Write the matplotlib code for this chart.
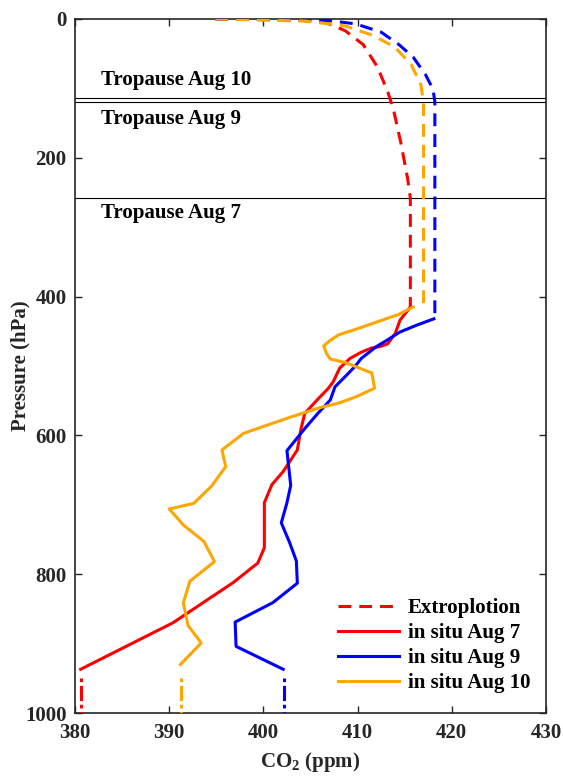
import matplotlib
matplotlib.use('Agg')
import matplotlib.pyplot as plt

# Schrift: Times-aehnlich, fett
plt.rcParams['font.family'] = 'Liberation Serif'
plt.rcParams['font.weight'] = 'bold'
plt.rcParams['axes.labelweight'] = 'bold'
plt.rcParams['mathtext.fontset'] = 'custom'
plt.rcParams['mathtext.rm'] = 'Liberation Serif:bold'
plt.rcParams['mathtext.it'] = 'Liberation Serif:bold'
plt.rcParams['mathtext.bf'] = 'Liberation Serif:bold'
plt.rcParams['mathtext.default'] = 'rm'

# In-situ Profile (CO2 in ppm, Druck in hPa)
co2_aug7 = [415.6, 414.5, 414.0, 413.2, 412.4, 411.5, 410.4, 409.2, 408.1, 407.4, 406.9,
            405.7, 404.4, 404.0, 403.6, 402.1, 400.9, 400.1, 400.1, 399.4, 396.8, 390.4, 380.6]
p_aug7 = [415, 434, 453, 468, 472, 474, 480, 489, 503, 523, 532,
          549, 568, 590, 621, 652, 671, 697, 762, 784, 812, 870, 937]

co2_aug9 = [418.1, 416.3, 414.5, 413.1, 412.0, 410.4, 409.7, 408.7, 407.6, 407.1, 405.8, 404.4,
            402.5, 402.9, 402.5, 401.9, 402.8, 403.5, 403.6, 401.0, 397.0, 397.1, 402.1]
p_aug9 = [432, 441, 451, 463, 472, 489, 501, 515, 530, 549, 568, 590,
          622, 672, 697, 726, 755, 781, 813, 841, 869, 904, 937]

co2_aug10 = [415.9, 414.3, 412.6, 409.6, 408.0, 407.1, 406.4, 406.7, 407.1, 408.7, 411.5, 411.8,
             409.9, 408.1, 406.0, 402.8, 397.9, 395.6, 396.0, 394.5, 392.6, 390.0, 391.5,
             393.7, 394.8, 392.2, 391.5, 392.0, 393.4, 391.2]
p_aug10 = [415, 426, 434, 448, 455, 463, 471, 482, 490, 495, 510, 532,
           544, 553, 560, 574, 597, 621, 645, 673, 698, 706, 729,
           753, 782, 810, 841, 874, 899, 930]

# Extrapolation nach oben
ext_co2_aug7 = [394.9, 403.3, 406.6, 408.7, 410.6, 412.1, 413.2, 413.8, 414.6, 415.3, 415.6, 415.6]
ext_p_aug7 = [0, 1.4, 5, 17, 37, 69, 105, 130, 179, 229, 258, 415]
ext_co2_aug9 = [394.9, 406.4, 409.8, 412.5, 414.4, 415.9, 417.2, 418.0, 418.2, 418.2]
ext_p_aug9 = [0, 1.4, 7, 19, 37, 55, 80, 101, 119, 432]
ext_co2_aug10 = [394.9, 404.5, 408.7, 411.7, 414.0, 415.7, 416.7, 417.0, 417.0]
ext_p_aug10 = [0, 3, 10, 24, 41, 66, 94, 119, 415]

# Extrapolation nach unten (Bodenwerte)
sfc_co2 = [380.6, 402.2, 391.2]  # Aug 7, Aug 9, Aug 10
sfc_p = [950, 1000]

# Tropopausen
tropo_p = [114, 119, 258]
tropo_labels = ['Tropause Aug 10', 'Tropause Aug 9', 'Tropause Aug 7']
tropo_label_p = [88, 144, 280]

colors = ['#FF0000', '#0000FF', '#FFA500']
dash = (0, (4.2, 2.6))
lw = 2.2
fs = 15

fig = plt.figure(figsize=(5.63, 7.76), dpi=100)
ax = fig.add_axes([75 / 563, 1 - 713 / 776, 471 / 563, 694 / 776])

for p in tropo_p:
    ax.axhline(p, color='black', lw=0.8, zorder=1)
for lab, p in zip(tropo_labels, tropo_label_p):
    ax.text(382.8, p, lab, fontsize=fs, fontweight='bold', va='center', ha='left')

ext_co2 = [ext_co2_aug7, ext_co2_aug9, ext_co2_aug10]
ext_p = [ext_p_aug7, ext_p_aug9, ext_p_aug10]
ins_co2 = [co2_aug7, co2_aug9, co2_aug10]
ins_p = [p_aug7, p_aug9, p_aug10]
names = ['in situ Aug 7', 'in situ Aug 9', 'in situ Aug 10']

handles = []
for i in range(3):
    h_ext, = ax.plot(ext_co2[i], ext_p[i], color=colors[i], lw=lw, linestyle=dash, zorder=3)
    h_ins, = ax.plot(ins_co2[i], ins_p[i], color=colors[i], lw=lw, zorder=3, label=names[i])
    ax.plot([sfc_co2[i]] * 2, sfc_p, color=colors[i], lw=lw,
            linestyle=(0, (1.2, 1.2, 5, 1.2)), zorder=3)
    if i == 0:
        handles.append(h_ext)
    handles.append(h_ins)

ax.legend(handles, ['Extroplotion'] + names, loc='upper left',
          bbox_to_anchor=(0.558, 0.166), frameon=False, fontsize=fs,
          handlelength=2.95, handletextpad=0.4, labelspacing=0.25,
          borderpad=0, borderaxespad=0)

ax.set_xlim(380, 430)
ax.set_ylim(1000, 0)
ax.set_xticks([380, 390, 400, 410, 420, 430])
ax.set_yticks([0, 200, 400, 600, 800, 1000])
ax.tick_params(direction='in', top=True, right=True, length=5, width=1,
               labelsize=fs, color='#262626')
ax.tick_params(axis='x', pad=7)
ax.tick_params(axis='y', pad=6)
for s in ax.spines.values():
    s.set_linewidth(1.2)
    s.set_color('#262626')
for t in ax.get_xticklabels() + ax.get_yticklabels():
    t.set_fontweight('bold')
    t.set_color('#262626')

ax.set_xlabel(r'CO$_2$ (ppm)', fontsize=fs, fontweight='bold', labelpad=5, color='#262626')
ax.set_ylabel('Pressure (hPa)', fontsize=fs, fontweight='bold', labelpad=-4, color='#262626')

fig.savefig('out.png', dpi=100)
